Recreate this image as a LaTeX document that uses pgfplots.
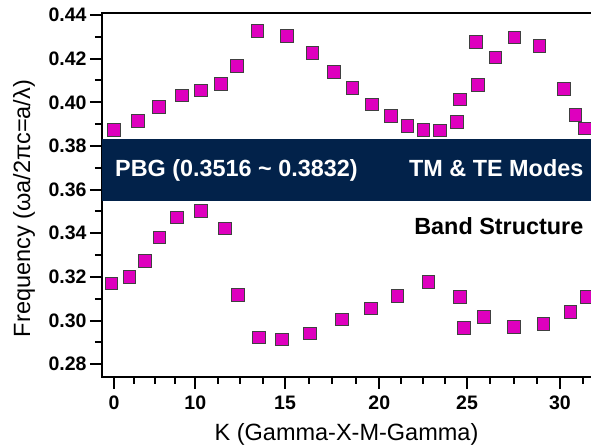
\documentclass[border=0pt]{standalone}
\usepackage{fontspec}
\setmainfont{Liberation Sans}
\usepackage{pgfplots}
\usepackage{pgfplotstable}
\pgfplotsset{compat=1.18}
\definecolor{navy}{RGB}{2,34,74}
\definecolor{mag}{RGB}{222,0,190}
\pgfplotstableread{
x y
0.00 0.3873
1.33 0.3914
2.52 0.3978
3.79 0.4032
4.89 0.4055
6.00 0.4084
6.89 0.4166
8.03 0.4327
9.68 0.4305
11.12 0.4226
12.33 0.4140
13.36 0.4067
14.46 0.3991
15.53 0.3937
16.44 0.3891
17.34 0.3873
18.26 0.3872
19.21 0.3910
19.38 0.4014
20.29 0.4276
20.40 0.4079
21.37 0.4206
22.44 0.4298
23.84 0.4258
25.22 0.4060
25.86 0.3943
26.40 0.3881
}\upperband
\pgfplotstableread{
x y
-0.15 0.3171
0.86 0.3201
1.74 0.3273
2.54 0.3381
3.51 0.3473
4.86 0.3503
6.21 0.3423
6.93 0.3117
8.14 0.2923
9.40 0.2914
10.99 0.2942
12.78 0.3006
14.41 0.3056
15.88 0.3114
17.62 0.3177
19.39 0.3109
19.62 0.2965
20.74 0.3018
22.42 0.2972
24.06 0.2986
25.58 0.3039
26.50 0.3109
}\lowerband
\begin{document}
\begin{tikzpicture}
\begin{axis}[
  scale only axis, width=491pt, height=364pt,
  xmin=-0.67, xmax=26.85, ymin=0.27428, ymax=0.44105,
  axis line style={line width=2pt, black},
  tick align=outside, xtick pos=bottom, ytick pos=left,
  major tick length=12pt, minor tick length=7pt,
  every tick/.append style={black, line width=2pt},
  xtick={0,4.56,9.59,14.87,19.79,25},
  xticklabels={0,10,15,20,25,30},
  minor xtick={1.14,2.28,3.42,5.82,7.08,8.33,10.91,12.23,13.55,16.10,17.33,18.56,21.09,22.40,23.70,26.3},
  ytick={0.28,0.30,0.32,0.34,0.36,0.38,0.40,0.42,0.44},
  minor ytick={0.29,0.31,0.33,0.35,0.37,0.39,0.41,0.43},
  scaled y ticks=false,
  yticklabel style={/pgf/number format/.cd, fixed, fixed zerofill, precision=2, /tikz/.cd},
  xticklabel style={yshift=-4pt},
  /pgf/number format/assume math mode=true,
  ticklabel style={font=\fontsize{19.5}{20}\selectfont\bfseries, black},
  xlabel={K (Gamma-X-M-Gamma)},
  ylabel={Frequency (ωa/2πc=a/λ)},
  label style={font=\fontsize{23.5}{25}\selectfont, black},
  xlabel style={at={(axis description cs:0.498,-0.1766)}, anchor=base},
  ylabel style={at={(axis description cs:-0.1466,0.462)}, anchor=base},
  clip marker paths=true,
]
\fill[navy] (axis cs:-0.67,0.355) rectangle (axis cs:26.85,0.3832);
\node[anchor=base west, inner sep=0pt, text=white, font=\fontsize{23.4}{25}\selectfont\bfseries] at (axis cs:0.056,0.36591) {PBG (0.3516 \textasciitilde{} 0.3832)};
\node[anchor=base east, inner sep=0pt, text=white, font=\fontsize{23.4}{25}\selectfont\bfseries] at (axis cs:26.32,0.36591) {TM \& TE Modes};
\node[anchor=base east, inner sep=0pt, text=black, font=\fontsize{23.4}{25}\selectfont\bfseries] at (axis cs:26.32,0.33952) {Band Structure};
\addplot[only marks, mark=square*, mark size=6.4pt, mark options={fill=mag, draw=black!75, line width=0.6pt}] table[x=x,y=y] {\upperband};
\addplot[only marks, mark=square*, mark size=6.4pt, mark options={fill=mag, draw=black!75, line width=0.6pt}] table[x=x,y=y] {\lowerband};
\end{axis}
\pgfresetboundingbox
\path (current axis.south west) ++(-102pt,-69.3pt) coordinate (bb);
\useasboundingbox (bb) rectangle ++(591pt,446pt);
\end{tikzpicture}
\end{document}
